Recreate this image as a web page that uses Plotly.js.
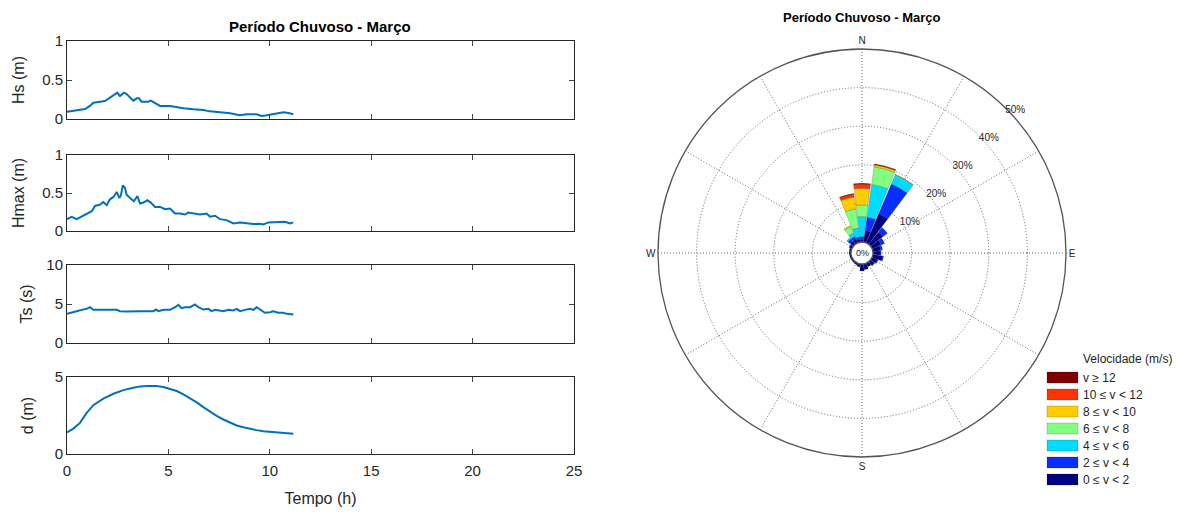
<!DOCTYPE html>
<html><head><meta charset="utf-8">
<script src="https://cdn.plot.ly/plotly-3.0.1.min.js"></script>
<style>html,body{margin:0;padding:0;background:#fff}</style>
</head><body>
<div id="chart" style="width:1193px;height:516px"></div>
<script>
// ---- Time series (hours) ----
const hsTime = [0,0.31,0.64,0.89,1.13,1.30,1.63,1.87,2.12,2.37,2.48,2.61,2.81,2.94,3.11,3.27,3.44,3.55,3.68,4.01,4.13,4.34,4.59,5.08,5.41,5.74,6.23,6.72,7.05,7.54,8.04,8.53,8.86,9.35,9.60,9.85,10.17,10.50,10.67,10.91,11.16];
const hsVals = [0.094,0.107,0.115,0.128,0.167,0.209,0.222,0.231,0.274,0.316,0.338,0.295,0.338,0.321,0.274,0.235,0.265,0.265,0.222,0.222,0.235,0.201,0.167,0.167,0.150,0.137,0.124,0.115,0.098,0.090,0.073,0.047,0.060,0.060,0.038,0.047,0.064,0.073,0.085,0.077,0.060];

const hmaxTime = [0,0.23,0.48,0.72,0.97,1.22,1.38,1.63,1.79,1.96,2.12,2.29,2.45,2.58,2.66,2.75,2.86,2.94,3.14,3.30,3.47,3.60,3.77,3.96,4.13,4.34,4.59,4.83,5.08,5.33,5.57,5.82,5.98,6.23,6.56,6.89,7.05,7.30,7.54,7.87,8.20,8.53,8.86,9.19,9.52,9.68,9.93,10.17,10.50,10.75,11.0,11.16];
const hmaxVals = [0.156,0.187,0.156,0.187,0.230,0.261,0.330,0.348,0.382,0.339,0.417,0.448,0.513,0.435,0.469,0.600,0.565,0.478,0.426,0.391,0.461,0.361,0.374,0.404,0.374,0.317,0.317,0.287,0.296,0.230,0.230,0.217,0.243,0.230,0.217,0.230,0.187,0.200,0.156,0.143,0.100,0.113,0.100,0.091,0.096,0.087,0.113,0.113,0.113,0.122,0.100,0.113];

const tsTime = [0,0.23,0.48,0.72,0.97,1.13,1.30,1.79,2.45,2.61,2.94,3.60,4.26,4.39,4.50,4.75,5.08,5.33,5.49,5.65,5.82,6.07,6.31,6.48,6.72,6.97,7.13,7.30,7.54,7.71,7.96,8.20,8.37,8.53,8.78,9.02,9.19,9.35,9.52,9.76,10.01,10.17,10.42,10.67,10.83,11.16];
const tsVals = [3.74,3.87,4.08,4.25,4.38,4.59,4.25,4.25,4.25,4.08,4.04,4.08,4.08,4.29,4.08,4.25,4.25,4.59,4.89,4.47,4.59,4.59,4.94,4.59,4.29,4.38,4.08,4.25,4.17,4.08,4.25,4.17,4.38,4.08,4.25,4.38,4.25,4.59,4.29,3.87,3.95,4.08,3.87,3.87,3.74,3.65];

const dTime = [0,0.31,0.64,0.97,1.30,1.79,2.29,2.78,3.27,3.60,3.93,4.42,4.75,5.08,5.41,5.74,6.07,6.40,6.72,7.05,7.38,7.71,8.04,8.37,8.70,9.02,9.35,9.68,10.01,10.34,10.67,11.0,11.16];
const dVals = [1.41,1.65,2.02,2.67,3.17,3.59,3.91,4.15,4.30,4.39,4.41,4.41,4.35,4.24,4.09,3.87,3.61,3.35,3.04,2.74,2.48,2.24,2.02,1.85,1.74,1.63,1.55,1.48,1.44,1.39,1.35,1.35,1.31];

const xTicks = [0,5,10,15,20,25];

// ---- Wind rose (percent of time per 15° sector) ----
const dirs = [0,15,30,45,60,75,90,105,120,135,150,165,180,195,210,225,240,255,270,285,300,315,330,345];
const dirTicks = [0,30,60,90,120,150,180,210,240,270,300,330];
const dirLabels = ['N','','','E','','','S','','','W','',''];
const radialTicks = [10,20,30,40,50];
const radialLabels = ['10%','20%','30%','40%','50%'];
const v0_2   = [0.7,3.0,8.2,4.0,2.5,2.0,1.8,2.5,1.5,1.2,1.0,1.5,1.8,0.8,0.5,0.4,0.4,0.4,0.5,0.5,0.6,1.0,1.0,0.7];
const v2_4   = [0.7,3.5,8.4,1.5,1.0,0.5,0.3,0.3,0.2,0.2,0,0,0,0,0,0,0,0,0,0,0.2,0.8,0.8,0.7];
const v4_6   = [5.2,8.6,2.6,0,0,0,0,0,0,0,0,0,0,0,0,0,0,0,0,0,0,0.4,1.0,2.3];
const v6_8   = [3.0,4.6,0,0,0,0,0,0,0,0,0,0,0,0,0,0,0,0,0,0,0,0,1.8,5.0];
const v8_10  = [4.3,0.5,0.1,0,0,0,0,0,0,0,0,0,0,0,0,0,0,0,0,0,0,0,0.3,3.1];
const v10_12 = [1.1,0.2,0,0,0,0,0,0,0,0,0,0,0,0,0,0,0,0,0,0,0,0,0,0.8];
const v12    = [0.2,0.05,0,0,0,0,0,0,0,0,0,0,0,0,0,0,0,0,0,0,0,0,0,0.1];
const classNames = ['0 \u2264 v < 2','2 \u2264 v < 4','4 \u2264 v < 6','6 \u2264 v < 8','8 \u2264 v < 10','10 \u2264 v < 12','v \u2265 12'];
const classVals = [v0_2,v2_4,v4_6,v6_8,v8_10,v10_12,v12];
const classColors = ['#000080','#0A2EFF','#00DCFF','#80FF80','#FFCC00','#FF3300','#800000'];
const legendTitle = 'Velocidade (m/s)';

const FONT = 'Liberation Sans, Arial, sans-serif';
const TXT = '#262626';
const LINE = '#0072BD';
const W = 1193, H = 516;
const px = x => x / W, py = y => 1 - y / H;

const traces = [];
const series = [[hsTime,hsVals],[hmaxTime,hmaxVals],[tsTime,tsVals],[dTime,dVals]];
series.forEach((s,i)=>{
  const n = i===0 ? '' : String(i+1);
  traces.push({type:'scatter',mode:'lines',x:s[0],y:s[1],xaxis:'x'+n,yaxis:'y'+n,
    line:{color:LINE,width:2},showlegend:false,hoverinfo:'skip'});
});
classVals.forEach((vals,i)=>{
  traces.push({type:'barpolar',r:vals,theta:dirs,width:14,name:classNames[i],showlegend:false,
    marker:{color:classColors[i],line:{color:'rgba(0,0,0,0.35)',width:0.5}},subplot:'polar'});
});

const annotations = [
  {text:'<b>Período Chuvoso - Março</b>',xref:'paper',yref:'paper',x:px(320),y:py(27),showarrow:false,font:{size:15,color:'#000'},xanchor:'center',yanchor:'middle'},
  {text:'<b>Período Chuvoso - Março</b>',xref:'paper',yref:'paper',x:px(862),y:py(17),showarrow:false,font:{size:13,color:'#000'},xanchor:'center',yanchor:'middle'},
  {text:'0%',xref:'paper',yref:'paper',x:px(862),y:py(253),showarrow:false,font:{size:9,color:TXT},xanchor:'center',yanchor:'middle'},
  {text:legendTitle,xref:'paper',yref:'paper',x:px(1081),y:py(359),showarrow:false,font:{size:12,color:TXT},xanchor:'left',yanchor:'middle'}
];
const shapes = [];
// manual legend, top item = highest class
for(let k=0;k<classNames.length;k++){
  const i = classNames.length-1-k;
  const cy = 377.5 + k*17;
  shapes.push({type:'rect',xref:'paper',yref:'paper',x0:px(1047),x1:px(1078),y0:py(cy+5.5),y1:py(cy-5.5),
    fillcolor:classColors[i],line:{color:'rgba(0,0,0,0.35)',width:0.5}});
  annotations.push({text:classNames[i],xref:'paper',yref:'paper',x:px(1081),y:py(cy),showarrow:false,
    font:{size:12,color:TXT},xanchor:'left',yanchor:'middle'});
}

const xDom = [px(67), px(574)];
const yDoms = [[119,41],[231,155],[343,265],[454,377]].map(p=>[py(p[0]),py(p[1])]);
const yRanges = [[0,1],[0,1],[0,10],[0,5]];
const yTicks = [[0,0.5,1],[0,0.5,1],[0,5,10],[0,5]];
const yTitles = ['Hs (m)','Hmax (m)','Ts (s)','d (m)'];
const yStandoff = [13,13,9,17];

const layout = {
  width:W,height:H,
  margin:{l:0,r:0,t:0,b:0},
  paper_bgcolor:'#fff',plot_bgcolor:'#fff',
  font:{family:FONT,color:TXT},
  showlegend:false,
  annotations:annotations,
  shapes:shapes,
  polar:{
    domain:{x:[px(862-204),px(862+204)],y:[py(253+204),py(253-204)]},
    hole:0.054,bgcolor:'rgba(0,0,0,0)',bargap:0,
    radialaxis:{range:[0,50],tickvals:radialTicks,ticktext:radialLabels,angle:47,tickangle:47,showline:false,ticks:'',
      gridcolor:'#666',griddash:'1px,2px',gridwidth:1,tickfont:{size:10,color:TXT}},
    angularaxis:{rotation:90,direction:'clockwise',tickvals:dirTicks,ticktext:dirLabels,
      gridcolor:'#666',griddash:'1px,2px',gridwidth:1,showline:true,linecolor:'#555',linewidth:1.3,ticks:'',
      tickfont:{size:10,color:TXT}}
  }
};
for(let i=0;i<4;i++){
  const n = i===0 ? '' : String(i+1);
  layout['xaxis'+n] = {domain:xDom,range:[0,25],anchor:'y'+n,tickvals:xTicks,ticks:'inside',ticklen:5,
    showline:true,mirror:'ticks',linecolor:'#262626',linewidth:1,showgrid:false,zeroline:false,
    showticklabels:i===3,tickfont:{size:15,color:TXT},ticklabelstandoff:3,
    title: i===3 ? {text:'Tempo (h)',font:{size:16,color:TXT},standoff:14} : undefined};
  layout['yaxis'+n] = {domain:yDoms[i],range:yRanges[i],anchor:'x'+n,tickvals:yTicks[i],ticks:'inside',ticklen:5,
    showline:true,mirror:'ticks',linecolor:'#262626',linewidth:1,showgrid:false,zeroline:false,
    tickfont:{size:15,color:TXT},title:{text:yTitles[i],font:{size:16,color:TXT},standoff:yStandoff[i]}};
}
Plotly.newPlot('chart',traces,layout,{displayModeBar:false});
</script>
</body></html>
